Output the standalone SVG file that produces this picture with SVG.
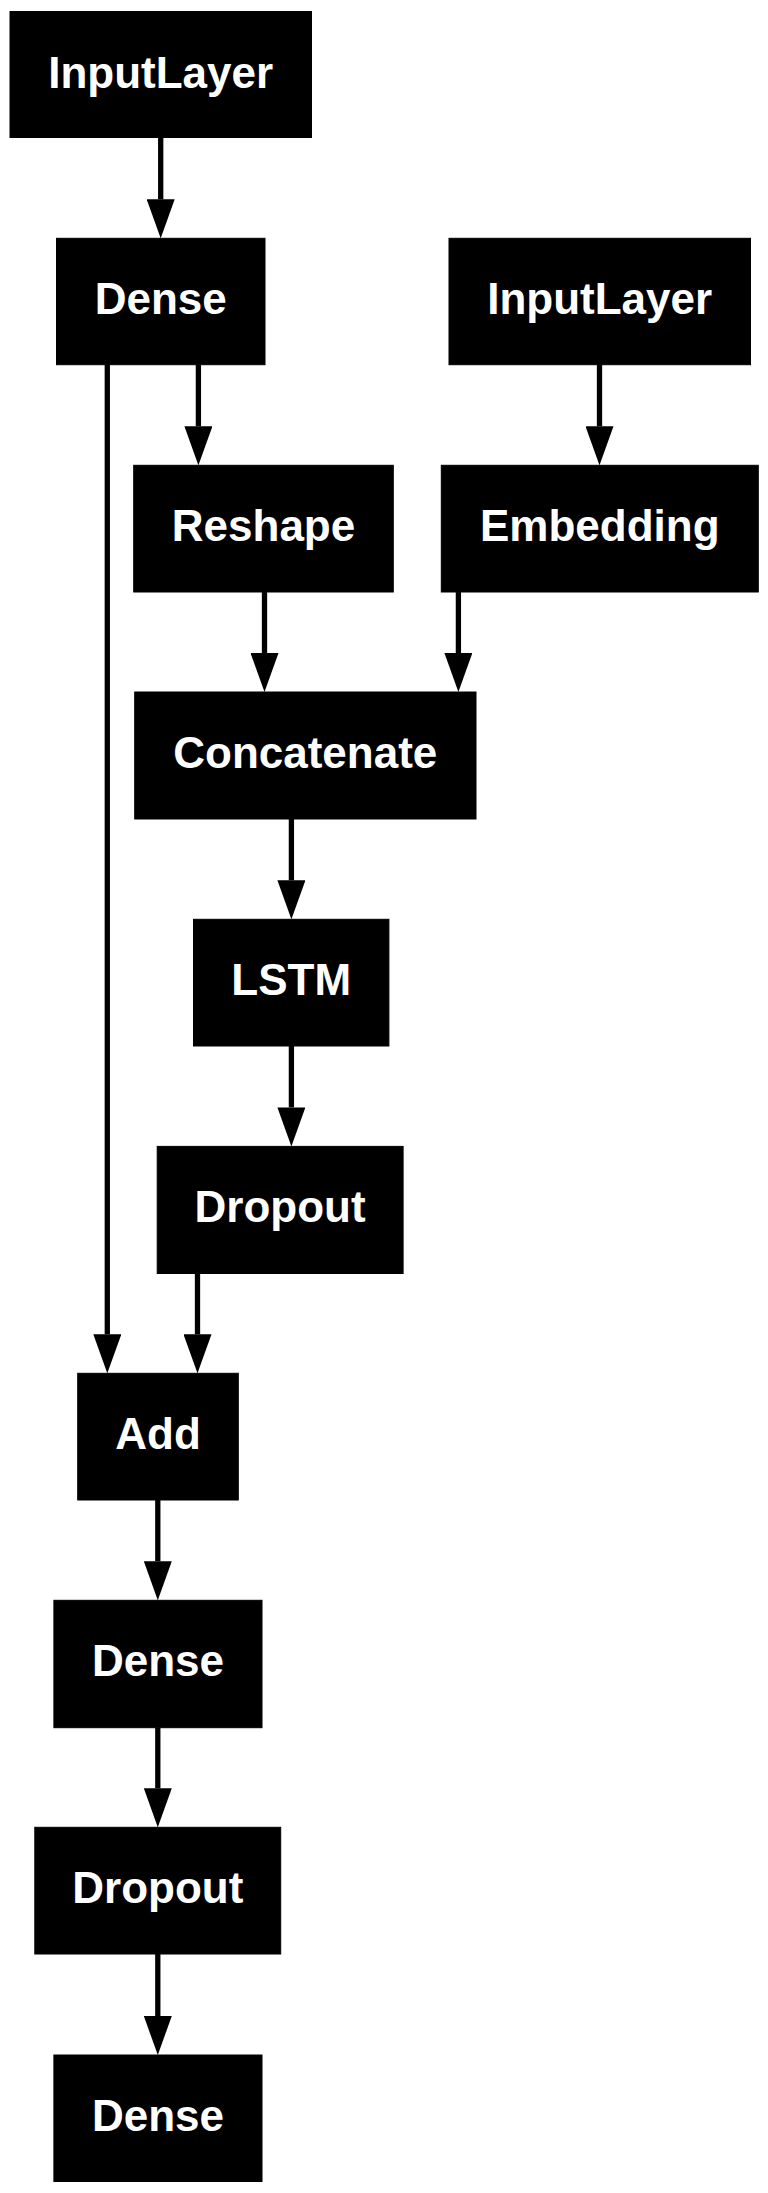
<svg xmlns="http://www.w3.org/2000/svg" width="768" height="2193" viewBox="0 0 768 2193">
<style>
.box{fill:#000;stroke:#000;stroke-width:1}
.lbl{fill:#fff;font-family:"Liberation Sans",Arial,Helvetica,sans-serif;font-weight:bold;font-size:44px;text-anchor:middle}
.edge{fill:none;stroke:#000;stroke-width:5.3;marker-end:url(#arr)}
</style>
<defs>
<marker id="arr" viewBox="0 0 39 28" refX="0" refY="14" markerWidth="39" markerHeight="28" markerUnits="userSpaceOnUse" orient="auto">
<path d="M0,0 L39,14 L0,28 Z" fill="#000"/>
</marker>
</defs>
<rect width="768" height="2193" fill="#fff"/>
<g id="edges">
<path class="edge" d="M160.7,137.5 V199.3"/>
<path class="edge" d="M107.3,364.7 V1334.3"/>
<path class="edge" d="M198.4,364.7 V426.3"/>
<path class="edge" d="M599.5,364.7 V426.3"/>
<path class="edge" d="M264.5,592 V653"/>
<path class="edge" d="M458.4,592 V653"/>
<path class="edge" d="M291.4,819 V880.3"/>
<path class="edge" d="M291.4,1046 V1107.4"/>
<path class="edge" d="M197.5,1273.5 V1334.3"/>
<path class="edge" d="M157.8,1500 V1561.3"/>
<path class="edge" d="M157.8,1727.7 V1788.3"/>
<path class="edge" d="M157.8,1954 V2016"/>
</g>
<g id="input1"><rect class="box" x="10" y="11.5" width="301.5" height="126"/><text class="lbl" x="160.7" y="87.5">InputLayer</text></g>
<g id="dense1"><rect class="box" x="56.5" y="238.3" width="208.5" height="126.4"/><text class="lbl" x="160.7" y="314.3">Dense</text></g>
<g id="input2"><rect class="box" x="449" y="238.3" width="301.5" height="126.4"/><text class="lbl" x="599.7" y="314.3">InputLayer</text></g>
<g id="reshape"><rect class="box" x="133.7" y="465.3" width="259.6" height="126.7"/><text class="lbl" x="263.5" y="541.3">Reshape</text></g>
<g id="embedding"><rect class="box" x="441.3" y="465.3" width="317" height="126.7"/><text class="lbl" x="599.8" y="541.3">Embedding</text></g>
<g id="concatenate"><rect class="box" x="134.7" y="692" width="341.3" height="127"/><text class="lbl" x="305.3" y="768">Concatenate</text></g>
<g id="lstm"><rect class="box" x="193.5" y="919.3" width="195.4" height="126.7"/><text class="lbl" x="291.2" y="995.3">LSTM</text></g>
<g id="dropout1"><rect class="box" x="157.2" y="1146.4" width="245.9" height="127.1"/><text class="lbl" x="280.1" y="1222.4">Dropout</text></g>
<g id="add"><rect class="box" x="77.7" y="1373.3" width="160.6" height="126.7"/><text class="lbl" x="158" y="1449.3">Add</text></g>
<g id="dense2"><rect class="box" x="53.9" y="1600.3" width="208.1" height="127.4"/><text class="lbl" x="158" y="1676.3">Dense</text></g>
<g id="dropout2"><rect class="box" x="34.8" y="1827.3" width="245.9" height="126.7"/><text class="lbl" x="157.8" y="1903.3">Dropout</text></g>
<g id="dense3"><rect class="box" x="53.9" y="2055" width="208.1" height="126.5"/><text class="lbl" x="158" y="2131">Dense</text></g>
</svg>
